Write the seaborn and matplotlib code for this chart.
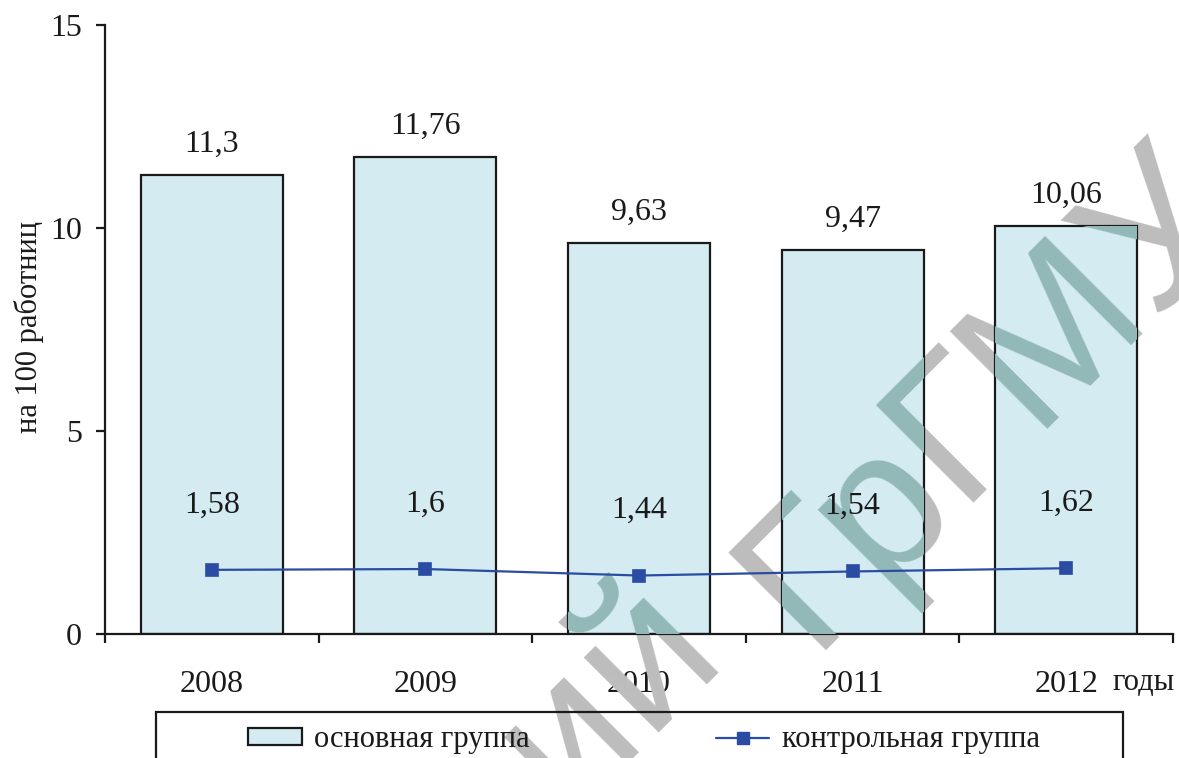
import matplotlib
matplotlib.use('Agg')
import matplotlib.pyplot as plt
import seaborn as sns
import pandas as pd
from matplotlib.patches import Patch, Rectangle
from matplotlib.lines import Line2D

years = ['2008', '2009', '2010', '2011', '2012']
main_group = [11.3, 11.76, 9.63, 9.47, 10.06]
control_group = [1.58, 1.6, 1.44, 1.54, 1.62]
main_labels = ['11,3', '11,76', '9,63', '9,47', '10,06']
control_labels = ['1,58', '1,6', '1,44', '1,54', '1,62']

df = pd.DataFrame({'year': years, 'main': main_group, 'control': control_group})

sns.set_style('ticks')
plt.rcParams['font.family'] = ['Liberation Serif', 'DejaVu Serif']

fig = plt.figure(figsize=(11.79, 7.58), dpi=100)
ax = fig.add_axes([0.089, 0.1636, 0.906, 0.8034])

bar_color = '#d3ebf1'
line_color = '#2a4ca3'
ink = '#1a1a1a'

sns.barplot(data=df, x='year', y='main', color=bar_color, edgecolor=ink,
            linewidth=1.6, width=0.665, saturation=1, ax=ax, zorder=2)
sns.pointplot(data=df, x='year', y='control', color=line_color, markers='s',
              markersize=9, linewidth=1.6, ax=ax, zorder=4)

for i, (v, lab) in enumerate(zip(main_group, main_labels)):
    ax.text(i, v + 0.75, lab, ha='center', va='center', fontsize=23, color=ink, zorder=5)
for i, (v, lab) in enumerate(zip(control_group, control_labels)):
    ax.text(i, v + 1.6, lab, ha='center', va='center', fontsize=23, color=ink, zorder=5)

ax.set_xlim(-0.5, 4.5)
ax.set_ylim(0, 15)
ax.set_yticks([0, 5, 10, 15])
ax.set_xticks(range(5))
ax.set_xticklabels(years)
ax.set_xticks([i - 0.5 for i in range(6)], minor=True)
ax.tick_params(axis='x', which='major', length=0, pad=26, labelsize=23, labelcolor=ink)
ax.tick_params(axis='x', which='minor', length=6.5, width=1.6, direction='out', color=ink)
ax.tick_params(axis='y', length=6.5, width=1.6, direction='out', labelsize=23,
               labelcolor=ink, color=ink, pad=10)
sns.despine(ax=ax)
for s in ['left', 'bottom']:
    ax.spines[s].set_linewidth(1.6)
    ax.spines[s].set_color(ink)
ax.set_xlabel('')
ax.set_ylabel('')
ax.set_facecolor('none')
fig.text(29 / 1179, 1 - 327 / 758, 'на 100 работниц', fontsize=22, rotation=90,
         ha='center', va='center', color=ink)

fig.text(1112 / 1179, 1 - 683 / 758, 'годы', fontsize=22, ha='left', va='center', color=ink)

handles = [Patch(facecolor=bar_color, edgecolor=ink, linewidth=1.6, label='основная группа'),
           Line2D([], [], color=line_color, marker='s', markersize=9, linewidth=1.6,
                  label='контрольная группа')]
leg = fig.legend(handles=handles, loc='center', ncol=2,
                 bbox_to_anchor=(644 / 1179, 1 - 740 / 758),
                 frameon=False, fontsize=22, handlelength=1.75, handleheight=0.45,
                 handletextpad=0.4, columnspacing=6.1)
for t in leg.get_texts():
    t.set_color(ink)
fig.add_artist(Rectangle((156 / 1179, -0.05), 967 / 1179, (1 - 712 / 758) + 0.05,
                         transform=fig.transFigure, fill=False, edgecolor=ink,
                         linewidth=1.6, zorder=6))

# watermark from the scan: grey on white, teal where it crosses the bars
wm_kw = dict(fontsize=145, rotation=45, family='Liberation Sans',
             va='baseline', rotation_mode='anchor', transform=fig.transFigure)
wm_parts = [('ГрГМУ', 'left', 810, 650), ('Репозиторий', 'right', 725, 650)]
for part, ha, px, py in wm_parts:
    x, y = px / 1179, 1 - py / 758
    ax.text(x, y, part, ha=ha, color='#bdbdbd', zorder=1, clip_on=False, **wm_kw)
    for bar in ax.patches:
        t = ax.text(x, y, part, ha=ha, color='#92b8b8', zorder=3, clip_on=True, **wm_kw)
        t.set_clip_path(bar)

fig.savefig('out.png', dpi=100, facecolor='white')
